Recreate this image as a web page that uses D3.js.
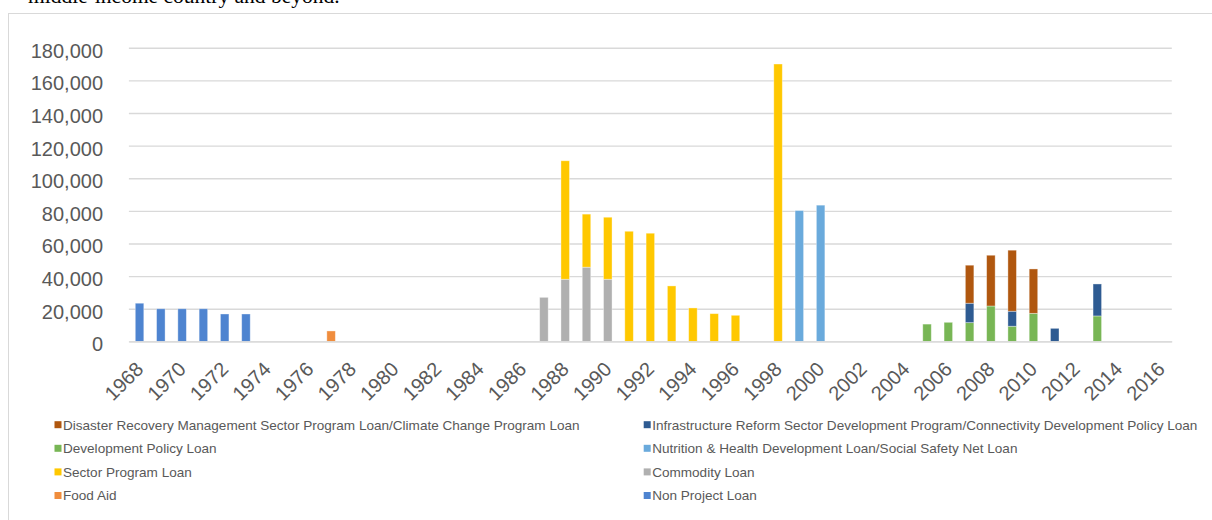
<!DOCTYPE html>
<html>
<head>
<meta charset="utf-8">
<script src="https://cdn.jsdelivr.net/npm/d3@7"></script>
<style>
  html, body { margin: 0; padding: 0; background: #fff; }
  svg { display: block; }
</style>
</head>
<body>
<svg id="chart" width="1212" height="520"></svg>
<script>
// Fiscal years on the category axis
const years = d3.range(1968, 2017);
const tickYears = d3.range(1968, 2017, 2);
const yTicks = [0, 20000, 40000, 60000, 80000, 100000, 120000, 140000, 160000, 180000];

// Disbursements by loan type, [year, amount]
const nonProjectLoan = [[1968, 23400], [1969, 20000], [1970, 20000], [1971, 20000], [1972, 16800], [1973, 16800]];
const foodAid = [[1977, 6400]];
const commodityLoan = [[1987, 27000], [1988, 38100], [1989, 45500], [1990, 38100]];
const sectorProgramLoan = [[1988, 72600], [1989, 32500], [1990, 38000], [1991, 67500], [1992, 66300],
  [1993, 34000], [1994, 20500], [1995, 17000], [1996, 16000], [1998, 170000]];
const nutritionHealthLoan = [[1999, 80200], [2000, 83500]];
const developmentPolicyLoan = [[2005, 10600], [2006, 11700], [2007, 11500], [2008, 21700], [2009, 9300], [2010, 17200], [2013, 15600]];
const infrastructureReformLoan = [[2007, 11900], [2009, 9200], [2011, 8000], [2013, 19600]];
const disasterRecoveryLoan = [[2007, 23300], [2008, 31100], [2009, 37400], [2010, 27200]];

const seriesNames = [
  "Non Project Loan",
  "Food Aid",
  "Commodity Loan",
  "Sector Program Loan",
  "Nutrition & Health Development Loan/Social Safety Net Loan",
  "Development Policy Loan",
  "Infrastructure Reform Sector Development Program/Connectivity Development Policy Loan",
  "Disaster Recovery Management Sector Program Loan/Climate Change Program Loan"
];
const seriesValues = [nonProjectLoan, foodAid, commodityLoan, sectorProgramLoan,
  nutritionHealthLoan, developmentPolicyLoan, infrastructureReformLoan, disasterRecoveryLoan];
const seriesColors = ["#4E84D0", "#F08D3D", "#B0B0B0", "#FFC800", "#6AAADC", "#78B655", "#2E5B92", "#B0570F"];

// Wide table: one row per year, one column per series
const table = years.map(y => {
  const row = { year: y };
  seriesNames.forEach((name, i) => {
    const hit = seriesValues[i].find(d => d[0] === y);
    row[name] = hit ? hit[1] : 0;
  });
  return row;
});
const stacked = d3.stack().keys(seriesNames)(table);

const svg = d3.select("#chart");
const textColor = "#595959";
const gridColor = "#D9D9D9";
const font = "'Liberation Sans', Arial, sans-serif";

// Running text above the chart frame
svg.append("text")
  .attr("x", 28).attr("y", 3)
  .attr("font-family", "'Liberation Serif', 'Times New Roman', serif")
  .attr("font-size", 21.5)
  .attr("fill", "#000")
  .text("middle-income country and beyond.");

// Chart frame
svg.append("rect")
  .attr("x", 8.5).attr("y", 13.5)
  .attr("width", 1220).attr("height", 520)
  .attr("fill", "#fff")
  .attr("stroke", gridColor).attr("stroke-width", 1);

const plot = { left: 128.9, right: 1171.8, top: 47.7, bottom: 341.4 };

const x = d3.scaleBand()
  .domain(years)
  .range([plot.left, plot.right])
  .paddingInner(0.6)
  .paddingOuter(0.3);

const y = d3.scaleLinear()
  .domain([0, 180000])
  .range([plot.bottom, plot.top]);

// Horizontal gridlines + value labels
const yAxis = d3.axisLeft(y)
  .tickValues(yTicks)
  .tickSize(-(plot.right - plot.left))
  .tickPadding(0)
  .tickFormat(d3.format(","));

const gy = svg.append("g")
  .attr("transform", `translate(${plot.left},0)`)
  .call(yAxis);
gy.select(".domain").remove();
gy.selectAll(".tick line")
  .attr("stroke", gridColor)
  .attr("stroke-width", 1.4);
gy.selectAll(".tick text")
  .attr("x", 103 - plot.left)
  .attr("dy", "0.47em")
  .attr("text-anchor", "end")
  .attr("font-family", font)
  .attr("font-size", 20)
  .attr("fill", textColor);

// Stacked bars
svg.append("g")
  .selectAll("g")
  .data(stacked)
  .join("g")
  .attr("fill", (d, i) => seriesColors[i])
  .selectAll("rect")
  .data(d => d.filter(p => p[1] - p[0] > 0))
  .join("rect")
  .attr("x", d => x(d.data.year))
  .attr("width", x.bandwidth())
  .attr("y", d => y(d[1]))
  .attr("height", d => y(d[0]) - y(d[1]))
  .attr("stroke", "rgba(255,255,255,0.45)")
  .attr("stroke-width", 0.8);

// Category axis with slanted year labels
const xAxis = d3.axisBottom(x)
  .tickValues(tickYears)
  .tickSize(0)
  .tickPadding(0);

const gx = svg.append("g")
  .attr("transform", `translate(0,${plot.bottom})`)
  .call(xAxis);
gx.select(".domain")
  .attr("stroke", gridColor)
  .attr("stroke-width", 1.4);
gx.selectAll(".tick text")
  .attr("y", 0).attr("dy", 0)
  .attr("text-anchor", "end")
  .attr("transform", "translate(5,29) rotate(-45)")
  .attr("font-family", font)
  .attr("font-size", 20)
  .attr("fill", textColor);

// Legend: two columns, series listed in reverse order
const legendOrder = seriesNames.map((n, i) => i).reverse();
const legendCols = [54.5, 643.7];
const legendRows = [424.7, 448.3, 471.9, 495.5];

const legend = svg.append("g")
  .selectAll("g")
  .data(legendOrder)
  .join("g")
  .attr("transform", (d, k) => `translate(${legendCols[k % 2]},${legendRows[Math.floor(k / 2)]})`);

legend.append("rect")
  .attr("x", 0).attr("y", -3.5)
  .attr("width", 7).attr("height", 7)
  .attr("fill", d => seriesColors[d]);

legend.append("text")
  .attr("x", 8.5).attr("y", 0)
  .attr("dy", "0.36em")
  .attr("font-family", font)
  .attr("font-size", 13.55)
  .attr("fill", textColor)
  .text(d => seriesNames[d]);
</script>
</body>
</html>
